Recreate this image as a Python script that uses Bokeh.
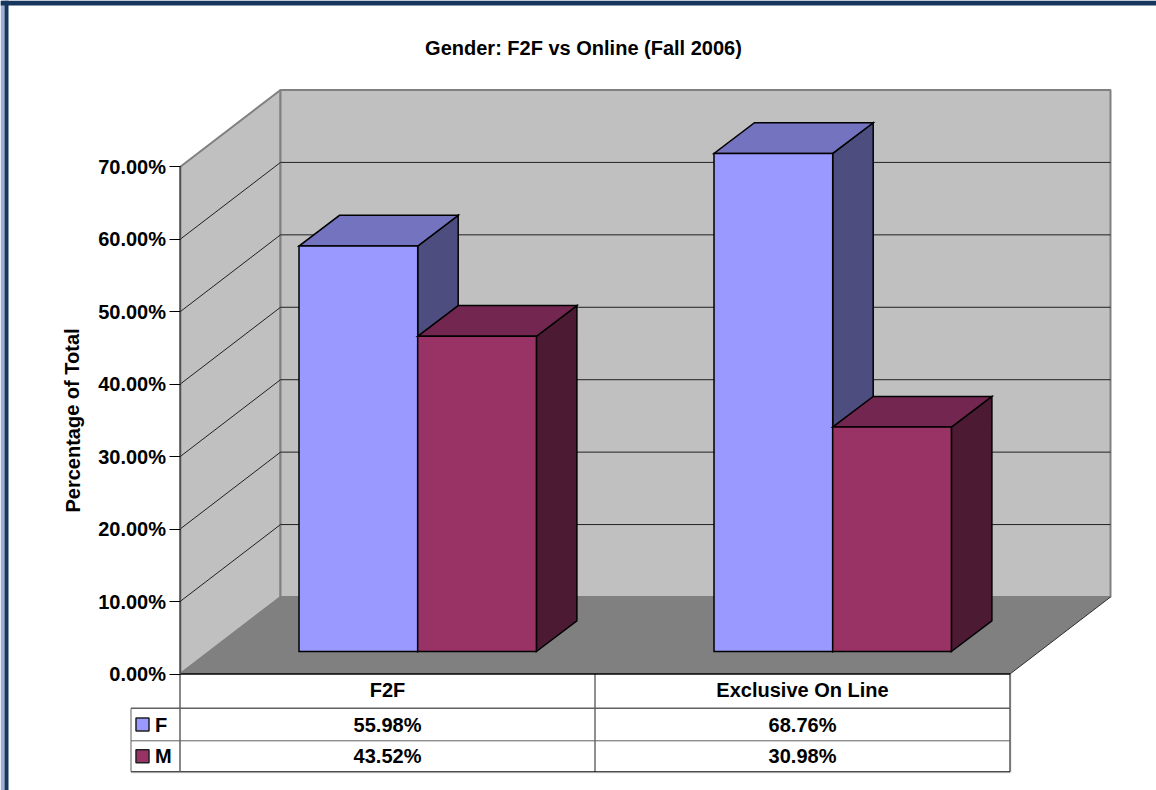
from bokeh.embed import file_html
from bokeh.resources import INLINE
from bokeh.plotting import figure
from bokeh.core.properties import value
from bokeh.models import FixedTicker, PrintfTickFormatter, Range1d

# Chart data
chart_title = "Gender: F2F vs Online (Fall 2006)"
y_title = "Percentage of Total"
categories = ["F2F", "Exclusive On Line"]
series_names = ["F", "M"]
f_values = [55.98, 68.76]
m_values = [43.52, 30.98]
y_ticks = [0, 10, 20, 30, 40, 50, 60, 70]
y_top = 70

# Series colours: front, top and side faces of each box
f_faces = ("#9999FF", "#7373BF", "#4D4D80")
m_faces = ("#993366", "#732650", "#4D1A33")

# Scale of the plot area and the oblique projection
FONT = "Liberation Sans"
W, H = 1156, 790
ORIGIN_X, ORIGIN_Y = 179.5, 673.5
SLOT_PX = 415.0
UNIT_PX = 7.243
DEPTH_X = 100.5 / SLOT_PX
DEPTH_Y = 77.0 / UNIT_PX


def ux(px):
    return px / SLOT_PX


def uy(px):
    return px / UNIT_PX


def page_x(px):
    return ux(px - ORIGIN_X)


def page_y(px):
    return uy(ORIGIN_Y - px)


p = figure(width=W, height=H, output_backend="svg", toolbar_location=None,
           x_range=Range1d(page_x(0), page_x(W)),
           y_range=Range1d(page_y(H), page_y(0)),
           x_axis_location=None, min_border=0, outline_line_color=None,
           background_fill_color="white", border_fill_color="white")
p.grid.visible = False

# Value axis pinned to the front left corner of the plot
yaxis = p.yaxis[0]
yaxis.fixed_location = 0
yaxis.ticker = FixedTicker(ticks=y_ticks)
yaxis.formatter = PrintfTickFormatter(format="%.2f%%")
yaxis.bounds = (0, y_top)
yaxis.axis_line_color = "#505050"
yaxis.axis_line_width = 1.5
yaxis.major_tick_line_color = "black"
yaxis.major_tick_in = 0
yaxis.major_tick_out = 11
yaxis.minor_tick_line_color = None
yaxis.major_label_text_font = FONT
yaxis.major_label_text_font_style = "bold"
yaxis.major_label_text_font_size = "20px"
yaxis.major_label_text_color = "black"
yaxis.major_label_standoff = 3

n_slots = len(categories)
WALL = "#C0C0C0"
EDGE = "#808080"

# Side wall, back wall and floor
p.patch([0, DEPTH_X, DEPTH_X, 0], [0, DEPTH_Y, y_top + DEPTH_Y, y_top],
        fill_color=WALL, line_color=EDGE, line_width=2)
p.patch([DEPTH_X, n_slots + DEPTH_X, n_slots + DEPTH_X, DEPTH_X],
        [DEPTH_Y, DEPTH_Y, y_top + DEPTH_Y, y_top + DEPTH_Y],
        fill_color=WALL, line_color=EDGE, line_width=2)

# Gridlines run along the side wall and across the back wall
for t in y_ticks[1:-1]:
    p.line([0, DEPTH_X, n_slots + DEPTH_X],
           [t, t + DEPTH_Y, t + DEPTH_Y],
           line_color="#202020", line_width=1)

p.patch([0, n_slots, n_slots + DEPTH_X, DEPTH_X], [0, 0, DEPTH_Y, DEPTH_Y],
        fill_color=EDGE, line_color=None)
p.line([n_slots, n_slots + DEPTH_X], [0, DEPTH_Y], line_color="#303030", line_width=1)

# Boxes
BAR_LEFT = ux(119.0)
BAR_W = ux(118.7)
BAR_DX = ux(40.5)
BAR_DY = uy(30.7)
BAR_BASE = uy(22.5)


def draw_box(x0, val, faces):
    front, top, side = faces
    x1 = x0 + BAR_W
    y0, y1 = BAR_BASE, BAR_BASE + val
    style = dict(line_color="black", line_width=1.5, line_join="miter")
    p.patch([x1, x1 + BAR_DX, x1 + BAR_DX, x1],
            [y0, y0 + BAR_DY, y1 + BAR_DY, y1], fill_color=side, **style)
    p.patch([x0, x1, x1 + BAR_DX, x0 + BAR_DX],
            [y1, y1, y1 + BAR_DY, y1 + BAR_DY], fill_color=top, **style)
    p.patch([x0, x1, x1, x0], [y0, y0, y1, y1], fill_color=front, **style)


for i in range(n_slots):
    draw_box(i + BAR_LEFT, f_values[i], f_faces)
    draw_box(i + BAR_LEFT + BAR_W, m_values[i], m_faces)

# Data table under the plot, with a faint drop shadow
row1, row2, row3 = -uy(34.2), -uy(66.8), -uy(97.8)
table_left = -ux(49)
shadow = dict(line_color="#E2E2E2", line_width=1)
p.line([table_left, n_slots + ux(1)], [row3 - uy(1)] * 2, **shadow)
p.line([n_slots + ux(1)] * 2, [0, row3 - uy(1)], **shadow)
p.line([n_slots, n_slots], [0, row3], line_color="black", line_width=1)
p.line([1, 1], [0, row3], line_color="#202020", line_width=1)
p.line([table_left, n_slots], [row1, row1], line_color="#606060", line_width=1.5)
p.line([table_left, n_slots], [row2, row2], line_color="#606060", line_width=1)
p.line([table_left, n_slots], [row3, row3], line_color="black", line_width=1)
p.line([table_left, table_left], [row1, row3], line_color="#606060", line_width=1)
p.line([0, 0], [0, row3], line_color="#606060", line_width=1.5)
p.line([0, n_slots], [0, 0], line_color="black", line_width=1.5)

text_style = dict(text_font=value(FONT), text_font_style="bold",
                  text_font_size="20px", text_color="black",
                  text_align="center", text_baseline="middle")
slot_centres = [i + 0.5 for i in range(n_slots)]
p.text(slot_centres, [row1 / 2 + uy(1)] * n_slots, text=categories, **text_style)
p.text(slot_centres, [(row1 + row2) / 2] * n_slots,
       text=[f"{v:.2f}%" for v in f_values], **text_style)
p.text(slot_centres, [(row2 + row3) / 2] * n_slots,
       text=[f"{v:.2f}%" for v in m_values], **text_style)

# Legend keys in the left column of the table
key_rows = [(row1 + row2) / 2, (row2 + row3) / 2]
p.quad(left=[table_left + ux(5)] * 2, right=[table_left + ux(18)] * 2,
       bottom=[yc - uy(6.5) for yc in key_rows], top=[yc + uy(6.5) for yc in key_rows],
       fill_color=[f_faces[0], m_faces[0]], line_color="#202020", line_width=1.5)
p.text([table_left + ux(24)] * 2, key_rows, text=series_names,
       text_font=value(FONT), text_font_style="bold", text_font_size="20px",
       text_color="black", text_align="left", text_baseline="middle")

# Chart title and value axis title
p.text([page_x(583)], [page_y(47)], text=[chart_title], **text_style)
p.text([page_x(72)], [page_y(420)], text=[y_title], angle=[1.5708], **text_style)

# Page frame: navy rule along the top and a two-tone rule at the left
p.quad(left=[page_x(0)], right=[page_x(4)], top=[page_y(0)], bottom=[page_y(H)],
       fill_color="#9DB0D8", line_color=None)
p.quad(left=[page_x(4), page_x(0)], right=[page_x(8), page_x(W)],
       top=[page_y(0), page_y(0)], bottom=[page_y(H), page_y(5)],
       fill_color="#17365D", line_color=None)

open("out.html", "w").write(file_html(p, INLINE))
